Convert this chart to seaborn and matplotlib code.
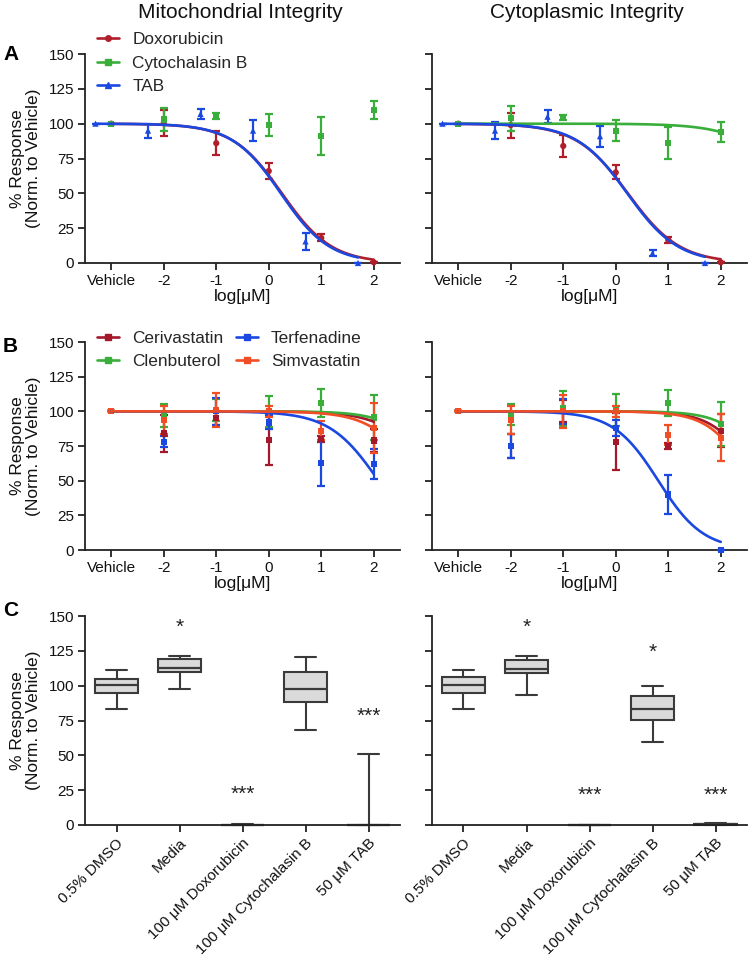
import numpy as np
import pandas as pd
import matplotlib
matplotlib.use("Agg")
import matplotlib.pyplot as plt
from matplotlib.lines import Line2D
import seaborn as sns

sns.set_theme(style="ticks")
plt.rcParams['font.family'] = ['Liberation Sans', 'DejaVu Sans']

# ---------------- data ----------------
VEHICLE = -3.0
x_std = [VEHICLE, -2, -1, 0, 1, 2]
x_tab = [-3.3, -2.3, -1.3, -0.3, 0.7, 1.7]
xtick_pos = [-3, -2, -1, 0, 1, 2]
xtick_lab = ["Vehicle", "-2", "-1", "0", "1", "2"]

# Panel A - Mitochondrial
mito_dox_mean = [100, 100.5, 86, 66, 18, 0.5]
mito_dox_err = [0, 9.5, 8.5, 6, 2.5, 0]
mito_cyto_mean = [100, 103, 105.5, 99, 91, 110]
mito_cyto_err = [0, 8, 2.5, 8, 13.5, 6.5]
mito_tab_mean = [100, 95, 107, 95, 15.5, 0]
mito_tab_err = [0, 5, 3.5, 7.5, 6, 0]
# Panel A - Cytoplasmic
cyto_dox_mean = [100, 99, 84, 65, 16.5, 0.5]
cyto_dox_err = [0, 9, 8, 5, 2, 0]
cyto_cyto_mean = [100, 104, 104.5, 95, 86, 94]
cyto_cyto_err = [0, 9, 2, 7.5, 11.5, 7]
cyto_tab_mean = [100, 95, 105, 91, 7, 0]
cyto_tab_err = [0, 6, 4.5, 7.5, 2, 0]

# Panel B - Mitochondrial
mito_ceri_mean = [100, 84, 95, 79.5, 80, 79]
mito_ceri_err = [0, 13, 5, 18.5, 2, 8]
mito_clen_mean = [100, 97, 101, 100, 106, 95.5]
mito_clen_err = [0, 8, 8, 11, 10, 16.5]
mito_terf_mean = [100, 78, 100, 92, 63, 62]
mito_terf_err = [0, 4, 9.5, 5, 16.5, 11]
mito_simv_mean = [100, 94, 101, 100, 86, 88]
mito_simv_err = [0, 10, 12.5, 4, 7, 18]
# Panel B - Cytoplasmic
cyto_ceri_mean = [100, 75, 100, 78, 75, 86]
cyto_ceri_err = [0, 9, 8, 20.5, 2, 12]
cyto_clen_mean = [100, 98, 102, 101, 106, 91]
cyto_clen_err = [0, 7.5, 12.5, 11.5, 9.5, 16]
cyto_terf_mean = [100, 75, 100, 88, 40, 0]
cyto_terf_err = [0, 8.5, 9, 6, 14, 0]
cyto_simv_mean = [100, 94, 100, 100, 83, 81]
cyto_simv_err = [0, 10, 12, 4, 7, 17]

# fitted 4PL curves (top=100, bottom=0): [logIC50, hill, x_start, x_end]
fit_mito_a = {"Doxorubicin": [0.25, 0.92, -3.0, 2.0], "TAB": [0.23, 0.94, -3.3, 1.7]}
fit_cyto_a = {"Doxorubicin": [0.23, 0.88, -3.0, 2.0], "Cytochalasin B": [3.49, 0.80, -3.0, 2.0],
              "TAB": [0.22, 0.90, -3.3, 1.7]}
fit_mito_b = {"Cerivastatin": [3.20, 0.91, -3, 2], "Clenbuterol": [3.28, 1.0, -3, 2],
              "Terfenadine": [2.09, 0.93, -3, 2], "Simvastatin": [2.88, 0.97, -3, 2]}
fit_cyto_b = {"Cerivastatin": [2.70, 1.1, -3, 2], "Clenbuterol": [2.95, 1.1, -3, 2],
              "Terfenadine": [0.81, 1.015, -3, 2], "Simvastatin": [2.59, 1.1, -3, 2]}

# Panel C - five-number summaries [min, Q1, median, Q3, max]
c_categories = ["0.5% DMSO", "Media", "100 μM Doxorubicin", "100 μM Cytochalasin B", "50 μM TAB"]
mito_c = [[83, 95, 100.5, 105, 111], [97.5, 109.5, 113, 119, 121], [0, 0, 0, 0.2, 0.4],
          [68, 88, 97.5, 109.5, 120.5], [0, 0, 0, 0, 51]]
cyto_c = [[83, 95, 100.5, 106, 111.5], [93, 109, 112, 118.5, 121.3], [0, 0, 0, 0, 0],
          [59.5, 75.5, 83, 92.3, 100], [0, 0, 0.5, 1, 1.5]]
mito_stars = [(1, 142, "*"), (2, 22, "***"), (4, 78, "***")]
cyto_stars = [(1, 142, "*"), (3, 124, "*"), (2, 21, "***"), (4, 21, "***")]

colors = {"Doxorubicin": "#b01e2c", "Cytochalasin B": "#3aae3a", "TAB": "#1b48e0",
          "Cerivastatin": "#a3182a", "Clenbuterol": "#3aae3a", "Terfenadine": "#1b48e0",
          "Simvastatin": "#f24e26"}
markers = {"Doxorubicin": "o", "Cytochalasin B": "s", "TAB": "^",
           "Cerivastatin": "s", "Clenbuterol": "s", "Terfenadine": "s", "Simvastatin": "s"}

# ---------------- layout ----------------
W, H = 750, 961
fig = plt.figure(figsize=(W / 100, H / 100), dpi=100)
def fx(p): return p / W
def fy(p): return 1 - p / H

rows = [(54, 263), (342, 550), (616, 825)]
cols = [85, 432]
aw = 315
axes = {}
for r, (top, bot) in enumerate(rows):
    for c, left in enumerate(cols):
        axes[(r, c)] = fig.add_axes([fx(left), fy(bot), aw / W, (bot - top) / H])

dark = "#222222"
txt = "#111111"
def style_axis(ax, show_ylab):
    sns.despine(ax=ax)
    for s in ["left", "bottom"]:
        ax.spines[s].set_linewidth(1.3)
        ax.spines[s].set_color(dark)
    ax.set_ylim(0, 150)
    ax.set_yticks([0, 25, 50, 75, 100, 125, 150])
    ax.tick_params(direction="out", length=5, width=1.3, color=dark, labelsize=11,
                   labelcolor=txt, pad=3)
    if show_ylab:
        ax.set_ylabel("% Response\n(Norm. to Vehicle)", fontsize=12.5, linespacing=1.1, color=txt)
        ax.yaxis.set_label_coords(-0.14, 0.5)
    else:
        ax.set_ylabel("")
        ax.tick_params(axis="y", labelleft=False)
    ax.set_facecolor("white")

def hill_df(fits):
    frames = []
    for name, (c50, h, x0, x1) in fits.items():
        xs = np.linspace(x0, x1, 200)
        ys = 100.0 / (1 + 10 ** ((xs - c50) * h))
        frames.append(pd.DataFrame({"x": xs, "y": ys, "drug": name}))
    return pd.concat(frames, ignore_index=True)

def dose_panel(ax, series, fits, show_ylab):
    for name, xs, mean, err in series:
        ax.errorbar(xs, mean, yerr=err, fmt="none", ecolor=colors[name], elinewidth=1.6,
                    capsize=3, capthick=1.6, zorder=3, clip_on=False)
    pts = pd.concat([pd.DataFrame({"x": xs, "y": mean, "drug": name}) for name, xs, mean, err in series],
                    ignore_index=True)
    names = [s[0] for s in series]
    sns.scatterplot(data=pts, x="x", y="y", hue="drug", style="drug", hue_order=names, style_order=names,
                    palette=colors, markers=markers, s=20, linewidth=0, legend=False, ax=ax,
                    zorder=4, clip_on=False)
    cdf = hill_df(fits)
    order = [n for n in names if n in fits]
    sns.lineplot(data=cdf, x="x", y="y", hue="drug", hue_order=order, palette=colors, estimator=None,
                 linewidth=1.9, legend=False, ax=ax, zorder=5)
    ax.set_xlim(-3.5, 2.5)
    ax.set_xticks(xtick_pos)
    ax.set_xticklabels(xtick_lab)
    style_axis(ax, show_ylab)
    ax.set_xlabel("log[μM]", fontsize=12.5, color=txt)
    ax.xaxis.set_label_coords(0.5, -0.125)

# Panel A
dose_panel(axes[(0, 0)], [("Doxorubicin", x_std, mito_dox_mean, mito_dox_err),
                          ("Cytochalasin B", x_std, mito_cyto_mean, mito_cyto_err),
                          ("TAB", x_tab, mito_tab_mean, mito_tab_err)], fit_mito_a, True)
dose_panel(axes[(0, 1)], [("Doxorubicin", x_std, cyto_dox_mean, cyto_dox_err),
                          ("Cytochalasin B", x_std, cyto_cyto_mean, cyto_cyto_err),
                          ("TAB", x_tab, cyto_tab_mean, cyto_tab_err)], fit_cyto_a, False)
# Panel B
dose_panel(axes[(1, 0)], [("Cerivastatin", x_std, mito_ceri_mean, mito_ceri_err),
                          ("Clenbuterol", x_std, mito_clen_mean, mito_clen_err),
                          ("Terfenadine", x_std, mito_terf_mean, mito_terf_err),
                          ("Simvastatin", x_std, mito_simv_mean, mito_simv_err)], fit_mito_b, True)
dose_panel(axes[(1, 1)], [("Cerivastatin", x_std, cyto_ceri_mean, cyto_ceri_err),
                          ("Clenbuterol", x_std, cyto_clen_mean, cyto_clen_err),
                          ("Terfenadine", x_std, cyto_terf_mean, cyto_terf_err),
                          ("Simvastatin", x_std, cyto_simv_mean, cyto_simv_err)], fit_cyto_b, False)

# Panel C
def box_panel(ax, summaries, stars, show_ylab):
    df = pd.concat([pd.DataFrame({"group": cat, "value": vals}) for cat, vals in zip(c_categories, summaries)],
                   ignore_index=True)
    sns.boxplot(data=df, x="group", y="value", order=c_categories, whis=(0, 100), width=0.68,
                color="#dadada", saturation=1, linecolor="#3a3a3a", linewidth=1.5, fliersize=0, ax=ax,
                medianprops={"linewidth": 1.6})
    for art in ax.get_children():
        try:
            art.set_clip_on(False)
        except Exception:
            pass
    ax.set_xlim(-0.5, 4.5)
    style_axis(ax, show_ylab)
    ax.set_xlabel("")
    ax.set_xticks(range(len(c_categories)))
    ax.set_xticklabels(c_categories, rotation=45, ha="right", rotation_mode="anchor", fontsize=11)
    for xi, yi, t in stars:
        ax.text(xi, yi, t, ha="center", va="center", fontsize=15, color="#222222")

box_panel(axes[(2, 0)], mito_c, mito_stars, True)
box_panel(axes[(2, 1)], cyto_c, cyto_stars, False)

# Legends
def handles(names):
    return [Line2D([0], [0], color=colors[n], marker=markers[n], markersize=4, lw=1.9) for n in names]

la = ["Doxorubicin", "Cytochalasin B", "TAB"]
fig.legend(handles(la), la, loc="upper left", bbox_to_anchor=(fx(97), fy(32)), frameon=False,
           fontsize=12.4, handlelength=1.3, handletextpad=0.75, labelspacing=0.5, borderpad=0,
           borderaxespad=0)
lb = ["Cerivastatin", "Clenbuterol", "Terfenadine", "Simvastatin"]
fig.legend(handles(lb), lb, loc="upper left", bbox_to_anchor=(fx(97), fy(331)), frameon=False,
           fontsize=12.4, ncol=2, handlelength=1.3, handletextpad=0.75, labelspacing=0.45,
           columnspacing=0.7, borderpad=0, borderaxespad=0)

# Titles and panel letters
fig.text(fx(240), fy(12), "Mitochondrial Integrity", ha="center", va="center", fontsize=15, color=txt)
fig.text(fx(587), fy(12), "Cytoplasmic Integrity", ha="center", va="center", fontsize=15, color=txt)
for letter, py in [("A", 55), ("B", 346), ("C", 611)]:
    fig.text(fx(3), fy(py), letter, ha="left", va="center", fontsize=15, fontweight="bold", color="black")

fig.savefig("out.png", dpi=100, facecolor="white")
